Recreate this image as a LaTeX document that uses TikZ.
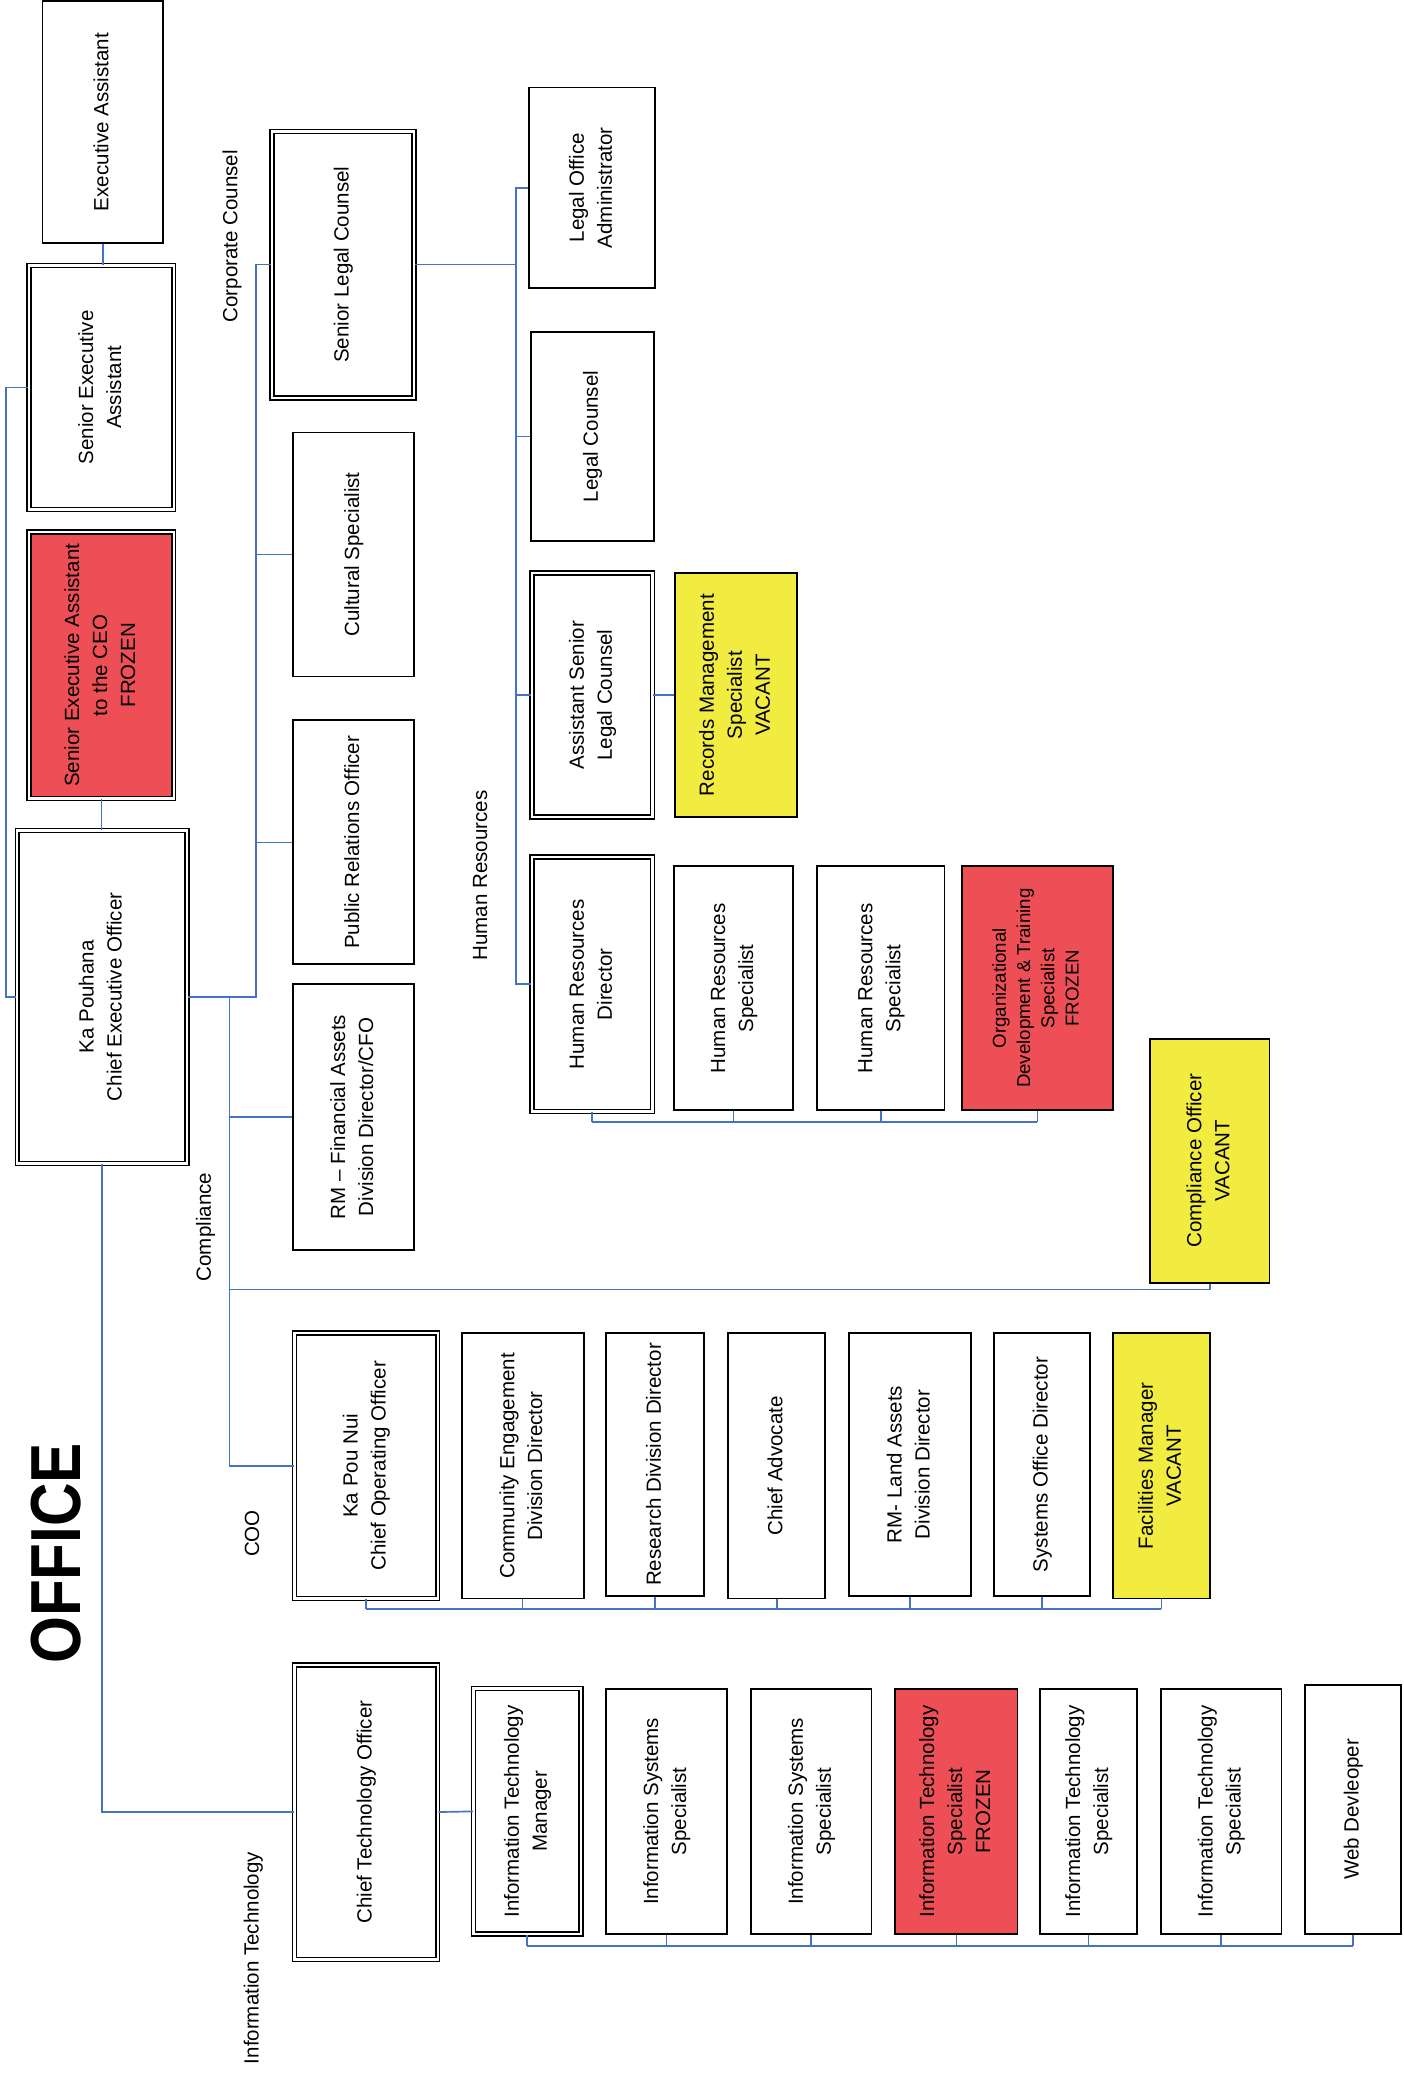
\documentclass[tikz,border=0pt]{standalone}
\usepackage{fontspec}
\setmainfont{Liberation Sans}
\usepackage{tikz}
\usetikzlibrary{calc}
\definecolor{frozenred}{RGB}{238,78,86}
\definecolor{vacantyellow}{RGB}{242,236,64}
\definecolor{wireblue}{RGB}{68,114,196}
\newcommand{\rtext}[1]{\rotatebox{90}{\begin{tabular}{@{}c@{}}#1\end{tabular}}}
\tikzstyle{block} = [draw, fill=white, rectangle, line width=1pt, inner sep=0pt,
    font=\fontsize{11}{15}\selectfont]
\tikzstyle{dblock} = [block, double, double distance=1.3pt, line width=0.8pt]
\tikzstyle{frozen} = [fill=frozenred]
\tikzstyle{vacant} = [fill=vacantyellow]
\tikzstyle{group} = [font=\fontsize{11}{15}\selectfont]
\tikzstyle{wire} = [draw=wireblue, line width=0.9pt]
\tikzset{bs/.style 2 args={minimum width=#1*0.025cm, minimum height=#2*0.025cm}}

\begin{document}
\begin{tikzpicture}[x=0.025cm, y=-0.025cm]
    \useasboundingbox (0,0) rectangle (1058,1568);

    % executive office
    \node [block, bs={91}{182}] (ea) at (77.5,92) {\rtext{Executive Assistant}};
    \node [dblock, bs={109}{184}] (sea) at (76.5,292) {\rtext{Senior Executive\\Assistant}};
    \node [dblock, frozen, bs={109}{201}] (seac) at (76.5,501.5) {\rtext{Senior Executive Assistant\\to the CEO\\FROZEN}};
    \node [dblock, bs={128}{251}] (ceo) at (77,751.5) {\rtext{Ka Pouhana\\Chief Executive Officer}};
    \node [font=\bfseries\fontsize{38}{40}\selectfont] (office) at (42,1171) {\rotatebox{90}{\scalebox{0.85}[1]{OFFICE}}};

    % corporate counsel
    \node [group] (cclabel) at (175,178) {\rotatebox{90}{Corporate Counsel}};
    \node [dblock, bs={107}{201}] (slc) at (258.5,199.5) {\rtext{Senior Legal Counsel}};
    \node [block, bs={91}{184}] (cul) at (266.5,418) {\rtext{Cultural Specialist}};
    \node [block, bs={91}{184}] (pr) at (266.5,635) {\rtext{Public Relations Officer}};
    \node [block, bs={91}{200}] (rmf) at (266.5,842) {\rtext{RM -- Financial Assets\\Division Director/CFO}};
    \node [block, bs={95}{151}] (loa) at (446.5,141.5) {\rtext{Legal Office\\Administrator}};
    \node [block, bs={93}{158}] (lc) at (446.5,329) {\rtext{Legal Counsel}};
    \node [dblock, bs={91}{184}] (aslc) at (446.5,524) {\rtext{Assistant Senior\\Legal Counsel}};
    \node [block, vacant, bs={92}{184}] (rms) at (555,524) {\rtext{Records Management\\Specialist\\VACANT}};

    % human resources
    \node [group] (hrlabel) at (362,660) {\rotatebox{90}{Human Resources}};
    \node [dblock, bs={91}{192}] (hrd) at (446.5,742) {\rtext{Human Resources\\Director}};
    \node [block, bs={90}{184}] (hrs1) at (553,745) {\rtext{Human Resources\\Specialist}};
    \node [block, bs={96}{184}] (hrs2) at (664,745) {\rtext{Human Resources\\Specialist}};
    \node [block, frozen, bs={114}{184}, font=\fontsize{10}{13}\selectfont] (odt) at (782,745) {\rtext{Organizational\\Development \& Training\\Specialist\\FROZEN}};

    % compliance
    \node [group] (cplabel) at (155,925) {\rotatebox{90}{Compliance}};
    \node [block, vacant, bs={90}{184}] (co) at (912,875) {\rtext{Compliance Officer\\VACANT}};

    % coo
    \node [group] (coolabel) at (190,1156) {\rotatebox{90}{COO}};
    \node [dblock, bs={108}{200}] (coo) at (276,1105) {\rtext{Ka Pou Nui\\Chief Operating Officer}};
    \node [block, bs={92}{200}] (ced) at (394,1105) {\rtext{Community Engagement\\Division Director}};
    \node [block, bs={74}{198}] (rdd) at (494,1104) {\rtext{Research Division Director}};
    \node [block, bs={73}{200}] (ca) at (585.5,1105) {\rtext{Chief Advocate}};
    \node [block, bs={92}{198}] (rml) at (686,1104) {\rtext{RM- Land Assets\\Division Director}};
    \node [block, bs={73}{198}] (sod) at (785.5,1104) {\rtext{Systems Office Director}};
    \node [block, vacant, bs={73}{200}] (fm) at (875.5,1105) {\rtext{Facilities Manager\\VACANT}};

    % information technology
    \node [group] (itlabel) at (191,1476) {\rotatebox{90}{Information Technology}};
    \node [dblock, bs={108}{222}] (cto) at (276,1366) {\rtext{Chief Technology Officer}};
    \node [dblock, bs={81}{185}] (itm) at (397.5,1365.5) {\rtext{Information Technology\\Manager}};
    \node [block, bs={91}{185}] (iss1) at (502.5,1365.5) {\rtext{Information Systems\\Specialist}};
    \node [block, bs={91}{185}] (iss2) at (611.5,1365.5) {\rtext{Information Systems\\Specialist}};
    \node [block, frozen, bs={92}{185}] (itsf) at (721,1365.5) {\rtext{Information Technology\\Specialist\\FROZEN}};
    \node [block, bs={73}{185}] (its1) at (820.5,1365.5) {\rtext{Information Technology\\Specialist}};
    \node [block, bs={91}{185}] (its2) at (920.5,1365.5) {\rtext{Information Technology\\Specialist}};
    \node [block, bs={72}{188}] (web) at (1020,1364) {\rtext{Web Devleoper}};

    \coordinate (ceoright) at (193,751.5);
    \coordinate (ceodown) at (173,751.5);
    \coordinate (cplbend) at (173,972);
    \coordinate (lgbus) at (389,199.5);
    \coordinate (hrbus) at (0,846);
    \coordinate (coobus) at (0,1213);
    \coordinate (itbus) at (0,1467);

    \draw [wire] (ea.south) -- (ea.south |- sea.north);
    \draw [wire] (sea.west) -- ++(-17,0) |- (ceo.west);
    \draw [wire] (seac.south) -- (seac.south |- ceo.north);
    \draw [wire] (ceo.east) -- (ceoright) |- (slc.west);
    \draw [wire] (ceoright) |- (cul.west);
    \draw [wire] (ceoright) |- (pr.west);
    \draw [wire] (ceodown) |- (rmf.west);
    \draw [wire] (ceodown) |- (coo.west);
    \draw [wire] (cplbend) -| (co.south);
    \draw [wire] (ceo.south) |- (cto.west);
    \draw [wire] (cto.east) -- (itm.west);
    \draw [wire] (slc.east) -- (lgbus);
    \foreach \n in {loa,lc,aslc,hrd}
        \draw [wire] (lgbus) |- (\n.west);
    \draw [wire] (aslc.east) -- (rms.west);

    \foreach \n in {hrd,hrs1,hrs2,odt}
        \draw [wire] (\n.south) -- (\n.south |- hrbus);
    \draw [wire] (hrd.south |- hrbus) -- (odt.south |- hrbus);
    \foreach \n in {coo,ced,rdd,ca,rml,sod,fm}
        \draw [wire] (\n.south) -- (\n.south |- coobus);
    \draw [wire] (coo.south |- coobus) -- (fm.south |- coobus);
    \foreach \n in {itm,iss1,iss2,itsf,its1,its2,web}
        \draw [wire] (\n.south) -- (\n.south |- itbus);
    \draw [wire] (itm.south |- itbus) -- (web.south |- itbus);
\end{tikzpicture}
\end{document}
